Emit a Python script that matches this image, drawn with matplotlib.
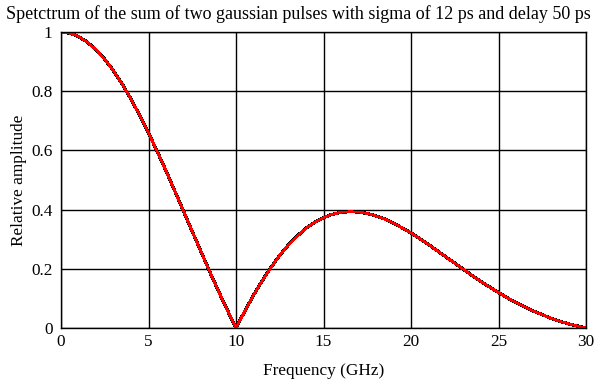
import numpy as np
import matplotlib
matplotlib.use('Agg')
import matplotlib.pyplot as plt

# frequency axis (GHz) and relative amplitude
freq = np.arange(0, 30.01, 0.5)
amplitude = [
    1.000, 0.996, 0.985, 0.966, 0.940, 0.908, 0.869, 0.824, 0.773, 0.718,
    0.659, 0.596, 0.531, 0.463, 0.395, 0.326, 0.258, 0.190, 0.124, 0.061,
    0.000, 0.057, 0.111, 0.160, 0.205, 0.246, 0.281, 0.311, 0.337, 0.357,
    0.373, 0.384, 0.391, 0.393, 0.392, 0.387, 0.379, 0.368, 0.354, 0.338,
    0.321, 0.302, 0.282, 0.261, 0.240, 0.219, 0.198, 0.177, 0.157, 0.138,
    0.120, 0.102, 0.086, 0.071, 0.057, 0.045, 0.033, 0.023, 0.014, 0.007,
    0.000,
]

xticks = [0, 5, 10, 15, 20, 25, 30]
yticks = [0, 0.2, 0.4, 0.6, 0.8, 1]
ytick_labels = ['0', '0.2', '0.4', '0.6', '0.8', '1']

plt.rcParams['font.family'] = ['Liberation Serif', 'DejaVu Serif']
plt.rcParams['font.size'] = 12.4

fig = plt.figure(figsize=(5.97, 3.83), dpi=100)
ax = fig.add_axes([0.1022, 0.1436, 0.8794, 0.7728])

# thin black trace under the red one, as in the reference
ax.plot(freq, amplitude, color='black', lw=1.6, antialiased=False)
ax.plot(freq, amplitude, color='red', lw=1.1, antialiased=False)

ax.set_xlim(0, 30)
ax.set_ylim(0, 1)
ax.set_xticks(xticks)
ax.set_yticks(yticks)
ax.set_yticklabels(ytick_labels)
ax.tick_params(length=0, pad=6)
ax.tick_params(axis='x', pad=4)
ax.grid(True, color='black', lw=1)
ax.set_axisbelow(True)
for s in ax.spines.values():
    s.set_linewidth(1)

fig.text(0.5, 0.963,
         'Spetctrum of the sum of two gaussian pulses with sigma of 12 ps and delay 50 ps',
         ha='center', va='center', fontsize=13)
ax.set_xlabel('Frequency (GHz)', labelpad=10)
ax.set_ylabel('Relative amplitude', labelpad=3)

fig.savefig('out.png', dpi=100)
